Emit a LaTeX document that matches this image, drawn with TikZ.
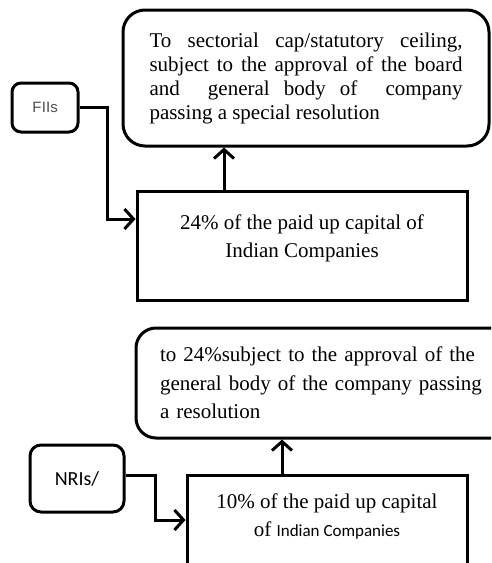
\documentclass[tikz,border=0pt]{standalone}
\usepackage{fontspec}
\setmainfont{Liberation Serif}
\newfontfamily\carl{Carlito}
\newfontfamily\lsans{Liberation Sans}
\usetikzlibrary{arrows.meta}
\tikzset{
  boxline/.style={draw=black, line width=3pt},
  rbox/.style={boxline, rounded corners=22pt},
  sbox/.style={boxline, rounded corners=9pt},
  sqbox/.style={boxline},
  conn/.style={line width=3pt, -{Straight Barb[length=9pt,width=20pt]}},
  txt/.style={inner sep=0pt, font=\fontsize{21}{28}\selectfont}
}
\begin{document}
\begin{tikzpicture}[x=1pt,y=-1pt]
\useasboundingbox (0,0) rectangle (491,563);
\clip (0,0) rectangle (491,563);
% top section
\node[rbox, minimum width=366pt, minimum height=136pt, text width=313pt, inner xsep=26.5pt,
  align=justify, font=\fontsize{21}{24}\selectfont] (top) at (306,78)
  {To sectorial cap/statutory ceiling,\linebreak subject to the approval of the board\linebreak and\ \ general body of\ \ company\linebreak passing a special resolution};
\node[sbox, minimum width=66pt, minimum height=49pt, inner sep=0pt,
  font=\lsans\fontsize{15}{17}\selectfont, text=black!70] (fiis) at (45,107.5) {F\kern0.5pt IIs};
\node[sqbox, minimum width=330pt, minimum height=109pt] (b24) at (302,245.5) {};
\node[txt, align=center] (t24) at (302,238) {24\% of the paid up capital of\\Indian Companies};
\coordinate (k1) at (107,219);
\draw[conn] (fiis.east) -| (k1) -- (b24.west |- k1);
\coordinate (a1) at (224,0);
\draw[conn] (a1 |- b24.north) -- (a1 |- top.south);
% lower section
\node[rbox, rounded corners=20pt, minimum width=388pt, minimum height=110pt, text width=340pt, inner xsep=24pt, inner ysep=4pt,
  align=left, font=\fontsize{21}{28.5}\selectfont] (low) at (330,383)
  {\hyphenpenalty=10000 to 24\%subject to the approval of the\\general body of the company passing\\a resolution};
\node[sbox, rounded corners=11pt, minimum width=94pt, minimum height=67pt, inner sep=0pt,
  font=\carl\fontsize{20}{22}\selectfont] (nri) at (77,478.5) {NRIs/};
\node[sqbox, minimum width=280pt, minimum height=120pt] (b10) at (327,535) {};
\node[txt, align=center] (t10) at (327,516) {10\% of the paid up capital\\of {\carl\fontsize{17}{28}\selectfont Indian Companies}};
\coordinate (k2) at (155,520);
\draw[conn] (nri.east |- 0,475) -| (k2) -- (b10.west |- k2);
\coordinate (a2) at (282,0);
\draw[conn] (a2 |- b10.north) -- (a2 |- low.south);
\end{tikzpicture}
\end{document}
